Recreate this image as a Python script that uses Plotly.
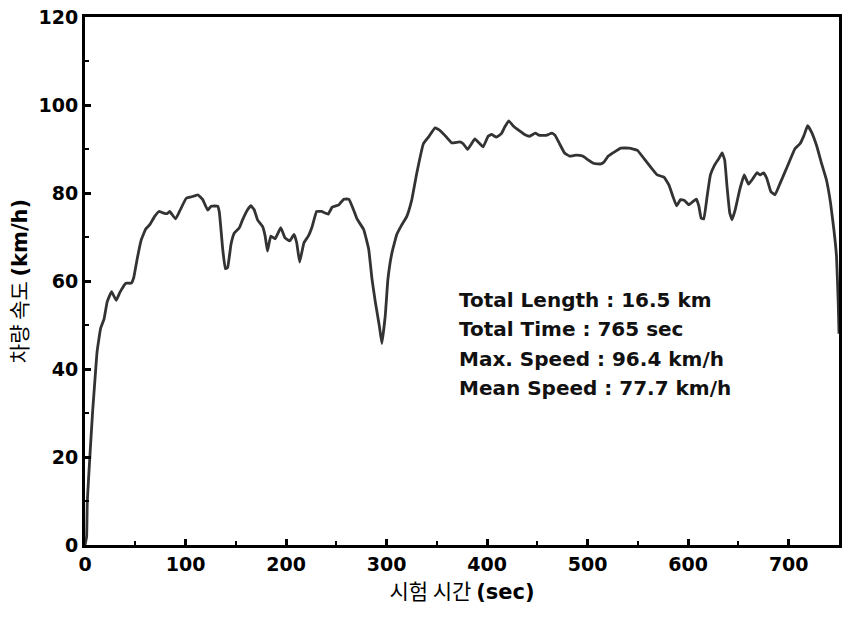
import plotly.graph_objects as go

time_s = [0, 1.6, 2.3, 5, 7.6, 10, 12, 15.5, 19, 22, 26.4, 31, 34.7, 40.6, 46, 48.5, 51.8, 56,
          60.4, 64.4, 69.3, 73.6, 77.5, 81.5, 84.2, 90.1, 94, 100.7, 105.6, 112.2, 117.1, 122.1,
          125.4, 132, 133.7, 137, 139.6, 141.9, 145.2, 148.5, 153.5, 156.7, 161.7, 165, 168.3,
          171.6, 176.6, 179.2, 181.5, 184.8, 189.1, 194.7, 199, 203.6, 207.9, 210.6, 213.5, 217.8,
          222.1, 226, 230.4, 235.3, 241.9, 245.9, 252.5, 257.4, 262.4, 265.7, 270.6, 277.2, 282.2,
          285.5, 288.8, 292.7, 295.3, 298.7, 301.3, 305.3, 310.2, 315.2, 320.1, 325.1, 330, 336.6,
          341.6, 348.2, 353.2, 358, 364.7, 373, 376.2, 380.5, 384.5, 387.8, 391.8, 396, 401, 404.3,
          409.2, 414.2, 417.5, 421.5, 425.7, 432.3, 437.3, 442.3, 447.8, 452.1, 458.7, 464.4, 467.6,
          472, 477, 481.9, 488.4, 495, 500, 506.6, 513.2, 516.5, 520.5, 526.4, 533, 541.3, 549.5,
          556.1, 562.7, 569.3, 575.9, 580.9, 584.8, 588.4, 592.4, 596.3, 600.6, 604.9, 608.2, 610.6,
          612.9, 615.5, 618.8, 622.1, 626.1, 630.4, 633.7, 636.3, 638.6, 641.3, 643.6, 646.8, 651.2,
          655.7, 660, 664.4, 668.3, 671.6, 675, 678.2, 682.2, 686.4, 691.4, 696.3, 701.3, 706.3,
          711.2, 715.2, 718.8, 722.8, 727.7, 732.7, 737.6, 741.6, 744.9, 747.5, 749.2, 750]
speed_kmh = [0, 1.9, 10, 20.7, 30.4, 37.9, 43.9, 49.2, 51.4, 55.2, 57.6, 55.6, 57.4, 59.5, 59.5, 60.8,
             64.9, 69.4, 71.8, 72.8, 74.7, 75.8, 75.5, 75.3, 75.8, 74.1, 75.8, 78.8, 79.1, 79.6, 78.5,
             76.1, 77, 77, 75.5, 67.2, 62.8, 63.1, 68.3, 70.9, 72.1, 73.9, 76.2, 77.1, 76.2,
             73.9, 72.4, 70.2, 66.8, 70.2, 69.6, 72.1, 69.8, 69.1, 70.6, 68.7, 64.3, 68.7,
             70.2, 72.4, 75.8, 75.8, 75.2, 76.8, 77.3, 78.6, 78.6, 77, 74.1, 71.7, 67.2,
             60.4, 55.2, 49.9, 45.8, 52.2, 60.4, 66.4, 70.6, 72.8, 74.7, 78.5, 84.5, 91.2,
             92.7, 94.8, 94.2, 93.1, 91.4, 91.6, 91.2, 89.9, 91.2, 92.3, 91.4, 90.5, 92.9, 93.3,
             92.7, 93.5, 95, 96.4, 95.3, 94.1, 93.3, 92.9, 93.6, 93.1, 93.1, 93.6, 93.1,
             91.2, 89.1, 88.4, 88.6, 88.4, 87.6, 86.7, 86.6, 87.1, 88.4, 89.3, 90.2, 90.2, 89.7,
             87.8, 85.9, 84.1, 83.6, 81.8, 79.2, 77.1, 78.5, 78.3, 77.3, 78.1, 78.6, 77,
             74.3, 74.1, 79.2, 84.1, 86.3, 87.8, 89.1, 87.5, 81.5, 75.5, 73.9, 76.2, 80.7,
             84.1, 82, 83.3, 84.6, 84.1, 84.6, 83.3, 80.3, 79.6, 82.2, 84.8, 87.5, 90.1,
             91.2, 93.1, 95.3, 93.8, 90.8, 86.7, 82.9, 77.7, 71.7, 65.7, 55.2, 48]

info_lines = ["Total Length : 16.5 km", "Total Time : 765 sec",
              "Max. Speed : 96.4 km/h", "Mean Speed : 77.7 km/h"]
info_y = [55.6, 49.0, 42.3, 35.6]

FONT = "DejaVu Sans, Noto Sans CJK KR, sans-serif"
KFONT = "Noto Sans CJK KR, DejaVu Sans, sans-serif"

fig = go.Figure()
fig.add_trace(go.Scatter(x=time_s, y=speed_kmh, mode="lines",
                         line=dict(color="#333333", width=2.8, shape="spline", smoothing=0.3),
                         showlegend=False, hoverinfo="skip"))

for txt, yy in zip(info_lines, info_y):
    fig.add_annotation(x=370, y=yy, xref="x", yref="y", text=f"<b>{txt}</b>",
                       showarrow=False, xanchor="left", yanchor="middle",
                       font=dict(family=FONT, size=20, color="#111111"))

axis_common = dict(showline=True, linecolor="black", linewidth=3, mirror=True,
                   ticks="inside", ticklen=6, tickwidth=2.5, tickcolor="black",
                   showgrid=False, zeroline=False,
                   tickfont=dict(family=FONT, size=19, color="black", weight="bold"))

fig.update_xaxes(range=[0, 750], tickvals=[0, 100, 200, 300, 400, 500, 600, 700],
                 minor=dict(ticks="inside", ticklen=4, tickwidth=2, tickcolor="black",
                            tickvals=[50, 150, 250, 350, 450, 550, 650]),
                 title=dict(text="시험 시간 <span style='font-family:DejaVu Sans'><b>(sec)</b></span>",
                            standoff=10,
                            font=dict(family=KFONT, size=21, color="black")),
                 **axis_common)
fig.update_yaxes(range=[0, 120], tickvals=[0, 20, 40, 60, 80, 100, 120],
                 minor=dict(ticks="inside", ticklen=4, tickwidth=2, tickcolor="black",
                            tickvals=[10, 30, 50, 70, 90, 110]),
                 title=dict(text="차량 속도 <span style='font-family:DejaVu Sans'><b>(km/h)</b></span>",
                            standoff=6,
                            font=dict(family=KFONT, size=21, color="black")),
                 **axis_common)

fig.update_layout(width=848, height=618, margin=dict(l=85, r=6, t=12, b=73),
                  plot_bgcolor="white", paper_bgcolor="white")

fig.write_html("out.html")
